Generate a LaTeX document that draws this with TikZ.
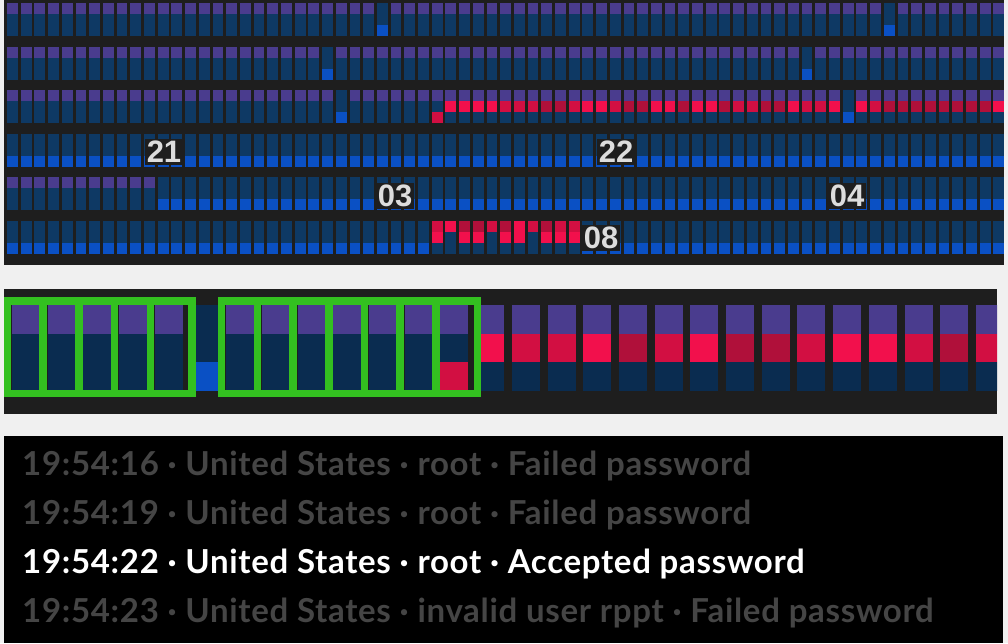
\documentclass[tikz,border=0pt]{standalone}
\usepackage{fontspec}
\usepackage{tikz}
\newfontfamily\logfont[LetterSpace=2.1]{Lato}
\newfontfamily\hourfont{Liberation Sans}

\definecolor{pagebg}{HTML}{F0F0F0}
\definecolor{panelbg}{HTML}{1E1E1E}
\definecolor{cellnavy}{HTML}{0E3964}
\definecolor{cellnavyb}{HTML}{0A2C50}
\definecolor{cellpurple}{HTML}{4A3C8E}
\definecolor{cellblue}{HTML}{0A50C4}
\definecolor{redA}{HTML}{F2104C}
\definecolor{redB}{HTML}{D20F42}
\definecolor{redC}{HTML}{B0103A}
\definecolor{selgreen}{HTML}{33C020}
\definecolor{hourgrey}{HTML}{DDDDDD}
\definecolor{logdim}{HTML}{454545}

% one cell of the hourly strip: column, band, top, middle, bottom
\newcommand{\hcell}[5]{%
  \fill[#3] ({7+13.7*#1},{3+43.5*#2}) rectangle ++(10.8,11);
  \fill[#4] ({7+13.7*#1},{14+43.5*#2}) rectangle ++(10.8,11);
  \fill[#5] ({7+13.7*#1},{25+43.5*#2}) rectangle ++(10.8,11);
}
% one cell of the zoomed strip: column, top, middle, bottom
\newcommand{\bcell}[4]{%
  \fill[#2] ({12+35.7*#1},305) rectangle ++(28,28.7);
  \fill[#3] ({12+35.7*#1},333.7) rectangle ++(28,28.7);
  \fill[#4] ({12+35.7*#1},362.4) rectangle ++(28,28.6);
}

\begin{document}
\begin{tikzpicture}[x=1pt, y=-1pt]
\tikzstyle{hour}=[fill=panelbg, text=hourgrey, inner sep=2pt, font=\hourfont\bfseries\fontsize{31}{31}\selectfont];
\tikzstyle{logline}=[anchor=base west, inner sep=0pt, font=\logfont\bfseries\fontsize{33}{33}\selectfont];
\tikzstyle{selbox}=[draw=selgreen, line width=7.5pt];
\useasboundingbox (0,0) rectangle (1008,643);
\fill[pagebg] (0,0) rectangle (1008,643);

% hourly strip
\fill[panelbg] (4,0) rectangle (1004,265);
\foreach \b in {0,1,2}
  \foreach \c in {0,...,72} {\hcell{\c}{\b}{cellpurple}{cellnavy}{cellnavy}}
\foreach \b in {3,5}
  \foreach \c in {0,...,72} {\hcell{\c}{\b}{cellnavy}{cellnavy}{cellblue}}
\foreach \c in {0,...,10} {\hcell{\c}{4}{cellpurple}{cellnavy}{cellnavy}}
\foreach \c in {11,...,72} {\hcell{\c}{4}{cellnavy}{cellnavy}{cellblue}}
\foreach \c/\b in {27/0,64/0,23/1,58/1,24/2,61/2}
  {\hcell{\c}{\b}{cellnavy}{cellnavy}{cellblue}}
\hcell{31}{2}{cellpurple}{cellnavy}{redB}
\foreach \c/\r in {32/redA,33/redA,34/redA,35/redA,36/redB,37/redB,38/redB,
    39/redC,40/redC,41/redB,42/redA,43/redA,44/redB,45/redC,46/redC,47/redA,
    48/redA,49/redC,50/redA,51/redA,52/redC,53/redB,54/redB,55/redC,56/redC,
    57/redA,58/redB,59/redB,60/redA,62/redA,63/redB,64/redC,65/redC,66/redC,
    67/redC,68/redC,69/redC,70/redC,71/redC,72/redA}
  {\hcell{\c}{2}{cellpurple}{\r}{cellnavy}}
\foreach \c/\t/\m in {31/redB/redA,32/redA/cellnavy,33/redC/redA,34/redC/redA,
    35/redB/cellnavy,36/redC/redA,37/redA/redA,38/redB/cellnavy,39/redC/redA,
    40/redB/redA,41/redB/redA}
  {\hcell{\c}{5}{\t}{\m}{cellnavy}}
\path (164,152) node[hour] (h21) {21};
\path (616,152) node[hour] (h22) {22};
\path (395,196) node[hour] (h03) {03};
\path (847,196) node[hour] (h04) {04};
\path (601,238) node[hour] (h08) {08};

% zoomed strip
\fill[panelbg] (4,289) rectangle (997,414);
\begin{scope}
\clip (4,289) rectangle (997,414);
\foreach \k in {0,...,4,6,7,...,11} {\bcell{\k}{cellpurple}{cellnavyb}{cellnavyb}}
\bcell{5}{cellnavyb}{cellnavyb}{cellblue}
\bcell{12}{cellpurple}{cellnavyb}{redB}
\foreach \k/\r in {13/redA,14/redB,15/redB,16/redA,17/redC,18/redB,19/redA,
    20/redC,21/redC,22/redB,23/redA,24/redA,25/redB,26/redC,27/redB}
  {\bcell{\k}{cellpurple}{\r}{cellnavyb}}
\end{scope}
\draw[selbox] (7.5,301) rectangle (191.8,393.5);
\foreach \k in {1,...,4} \draw[selbox] ({12+35.7*\k-4.5},301) -- ++(0,92.5);
\draw[selbox] (221.7,301) rectangle (477.4,393.5);
\foreach \k in {7,...,12} \draw[selbox] ({12+35.7*\k-4.5},301) -- ++(0,92.5);

% log lines
\fill[black] (4,436) rectangle (1003,643);
\path (22,475) node[logline, text=logdim] (log1) {19:54:16 · United States · root · Failed password};
\path (22,524) node[logline, text=logdim] (log2) {19:54:19 · United States · root · Failed password};
\path (22,573) node[logline, text=white] (log3) {19:54:22 · United States · root · Accepted password};
\path (22,622) node[logline, text=logdim] (log4) {19:54:23 · United States · invalid user rppt · Failed password};
\end{tikzpicture}
\end{document}
